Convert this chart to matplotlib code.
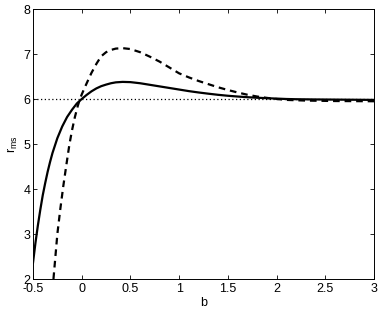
import matplotlib
matplotlib.use("Agg")
import matplotlib.pyplot as plt

plt.rcParams['font.family'] = ['Liberation Sans', 'DejaVu Sans']
plt.rcParams['mathtext.fontset'] = 'custom'
plt.rcParams['mathtext.rm'] = 'Liberation Sans'
plt.rcParams['mathtext.it'] = 'Liberation Sans'

# --- data ---
b_solid = [-0.5, -0.475, -0.45, -0.425, -0.4, -0.375, -0.35, -0.325, -0.3,
           -0.25, -0.2, -0.15, -0.1, -0.05, 0.0, 0.05, 0.1, 0.15, 0.2, 0.25,
           0.3, 0.35, 0.42, 0.5, 0.6, 0.7, 0.8, 0.9, 1.0, 1.1, 1.2, 1.3, 1.4,
           1.5, 1.6, 1.7, 1.8, 1.9, 2.0, 2.1, 2.2, 2.4, 2.7, 3.0]
r_solid = [2.36, 2.80, 3.19, 3.54, 3.86, 4.13, 4.38, 4.60, 4.80,
           5.13, 5.39, 5.60, 5.76, 5.90, 6.0, 6.09, 6.17, 6.235, 6.285, 6.32,
           6.35, 6.37, 6.38, 6.375, 6.35, 6.315, 6.28, 6.245, 6.21, 6.175, 6.145,
           6.118, 6.093, 6.072, 6.055, 6.04, 6.028, 6.018, 6.009, 6.0, 5.995, 5.99,
           5.985, 5.98]

b_dash = [-0.29, -0.27, -0.25, -0.22, -0.19, -0.16, -0.127, -0.1, -0.07, -0.04,
          -0.018, 0.0, 0.03, 0.068, 0.1, 0.153, 0.2, 0.25, 0.3, 0.35, 0.42,
          0.5, 0.6, 0.7, 0.8, 0.9, 1.0, 1.1, 1.2, 1.3, 1.4, 1.5, 1.6, 1.7,
          1.8, 1.9, 2.0, 2.1, 2.3, 2.6, 3.0]
r_dash = [2.0, 2.5, 3.0, 3.55, 4.05, 4.5, 4.98, 5.3, 5.6, 5.85,
          6.0, 6.1, 6.25, 6.43, 6.58, 6.79, 6.95, 7.04, 7.09, 7.12, 7.13,
          7.11, 7.04, 6.94, 6.83, 6.70, 6.57, 6.48, 6.40, 6.33, 6.26, 6.2,
          6.145, 6.095, 6.055, 6.025, 6.0, 5.98, 5.965, 5.955, 5.95]

r_ref = 6.0
xticks = [-0.5, 0, 0.5, 1, 1.5, 2, 2.5, 3]
xticklabels = ['-0.5', '0', '0.5', '1', '1.5', '2', '2.5', '3']
yticks = [2, 3, 4, 5, 6, 7, 8]

fig = plt.figure(figsize=(3.82, 3.09), dpi=100)
ax = fig.add_axes([33/382, 30/309, 341/382, 270/309])

ax.axhline(r_ref, color='black', lw=0.9, dashes=(1, 2))
ax.plot(b_solid, r_solid, color='black', lw=1.6)
ax.plot(b_dash, r_dash, color='black', lw=1.6, dashes=(3, 2.2))

ax.set_xlim(-0.5, 3)
ax.set_ylim(2, 8)
ax.set_xticks(xticks)
ax.set_xticklabels(xticklabels)
ax.set_yticks(yticks)
ax.tick_params(direction='in', length=3, width=0.6, top=True, right=True,
               labelsize=9, pad=2)
ax.tick_params(axis='x', pad=3)
for s in ax.spines.values():
    s.set_linewidth(0.7)

ax.set_xlabel('b', fontsize=9, labelpad=1)
ax.set_ylabel(r'r$_{\mathrm{ms}}$', fontsize=9, labelpad=2)

fig.savefig('out.png', dpi=100)
